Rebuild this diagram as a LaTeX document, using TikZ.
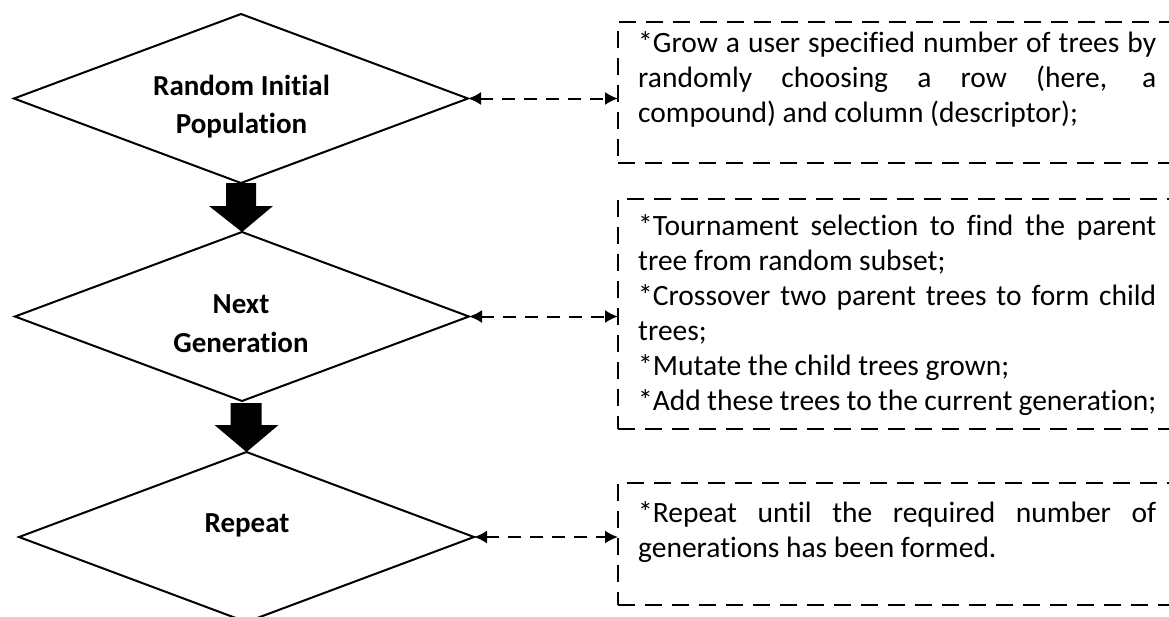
\documentclass[tikz,border=0pt]{standalone}
\usepackage{fontspec}
\setmainfont{Carlito}[Ligatures=NoCommon]
\usetikzlibrary{shapes.geometric,arrows.meta,calc}
\newcommand\natsp{\spaceskip=0pt\xspaceskip=0pt\relax}
\newcommand\fixsp{\spaceskip=.23em\xspaceskip=.23em\relax}
\newcommand\jline[1]{\makebox[518pt][s]{#1}}
\begin{document}
\begin{tikzpicture}[x=1pt,y=-1pt,
  dia/.style={draw,shape=diamond,line width=2pt,minimum width=454pt,minimum height=169pt,inner sep=0pt,outer sep=0pt},
  dlabel/.style={text width=300pt,align=center,inner sep=0pt,anchor=base,font=\fontsize{29}{38.5}\selectfont\bfseries},
  dbox/.style={draw,dash pattern=on 17pt off 10pt,line width=2.5pt,inner sep=0pt,outer sep=0pt,anchor=north west,minimum width=600pt},
  btext/.style={text width=518pt,align=left,inner sep=0pt,anchor=base west,font=\fontsize{29.5}{35}\selectfont},
  blockarrow/.style={fill=black},
  link/.style={line width=2pt,dash pattern=on 13pt off 9pt,{Latex[length=13pt,width=13pt]}-{Latex[length=13pt,width=13pt]}}
]
\clip (0,0) rectangle (1169,616);
\fill[white] (0,0) rectangle (1169,616);

% decision diamonds
\node[dia] (d1) at (241,98.5) {};
\node[dia] (d2) at (242,316.5) {};
\node[dia,minimum width=455pt,minimum height=170pt] (d3) at (246.5,537) {};

% labels
\node[dlabel] (t1) at (241.5,95) {\fixsp Random Initial\\Population};
\node[dlabel] (t2) at (241,313) {\fixsp Next\\[0.5pt]Generation};
\node[dlabel] (t3) at (247,532) {\fixsp Repeat};

% dashed boxes
\node[dbox,minimum height=141pt] (b1) at (618,22) {};
\node[dbox,minimum height=230pt] (b2) at (618,199) {};
\node[dbox,minimum height=122pt] (b3) at (618,483) {};

% box texts
\node[btext] (x1) at (638,52) {\natsp\jline{*Grow a user specified number of trees by}\\
\jline{randomly choosing a row (here, a}\\
compound) and column (descriptor);};
\node[btext] (x2) at (638,235) {\natsp\jline{*Tournament selection to find the parent}\\
tree from random subset;\\
\jline{*Crossover two parent trees to form child}\\
trees;\\
{}*Mutate the child trees grown;\\
{}*Add these trees to the current generation;};
\node[btext] (x3) at (638,522) {\natsp\jline{*Repeat until the required number of}\\
generations has been formed.};

% block arrows
\coordinate (s2) at (d2.south -| d3.north);
\fill[blockarrow] ($(d1.south)+(-15,0)$) -- ($(d1.south)+(15,0)$) -- ($(d1.south)+(15,23)$)
  -- ($(d1.south)+(32,23)$) -- (d2.north) -- ($(d1.south)+(-32,23)$) -- ($(d1.south)+(-15,23)$) -- cycle;
\fill[blockarrow] ($(s2)+(-16,2)$) -- ($(s2)+(15,2)$) -- ($(s2)+(15,24)$)
  -- ($(s2)+(32,24)$) -- (d3.north) -- ($(s2)+(-32,24)$) -- ($(s2)+(-16,24)$) -- cycle;

% dashed two-way connectors
\draw[link] (d1.east) -- (d1.east -| b1.west);
\draw[link] (d2.east) -- (d2.east -| b2.west);
\draw[link] (d3.east) -- (d3.east -| b3.west);
\end{tikzpicture}
\end{document}
